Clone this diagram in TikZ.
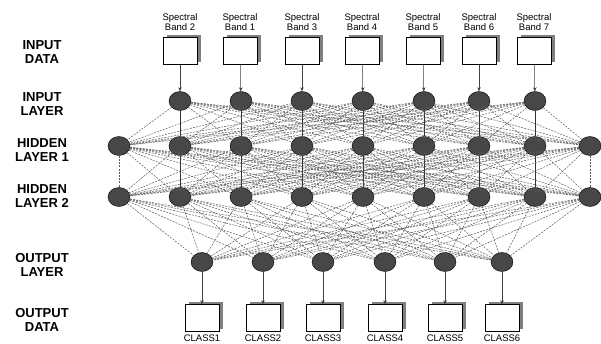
\documentclass[tikz,border=0pt]{standalone}
\usepackage{fontspec}
\setmainfont{Liberation Sans}
\usetikzlibrary{shapes.geometric,arrows.meta}
\begin{document}
\begin{tikzpicture}[x=1pt,y=-1pt,
  neuron/.style={ellipse,draw=black,fill=black!72,minimum width=22pt,minimum height=19pt,inner sep=0pt},
  databox/.style={draw=black,fill=white,minimum width=34pt,minimum height=27pt,inner sep=0pt},
  shadowbox/.style={fill=black!50,minimum width=34pt,minimum height=27pt,inner sep=0pt},
  layerlabel/.style={font=\bfseries\fontsize{13}{14.5}\selectfont,align=center},
  smalllabel/.style={font=\fontsize{9.5}{9.5}\selectfont,align=center},
  conn/.style={draw=black!65,line width=0.5pt,dash pattern=on 2pt off 1.2pt},
  vconn/.style={draw=black!80,line width=0.6pt},
  feed/.style={draw=black!75,line width=0.5pt,-{Stealth[length=4pt,width=3.5pt]}}
]
\useasboundingbox (0,0) rectangle (601,343);
% left labels
\node[layerlabel] (l1) at (42,52) {INPUT\\DATA};
\node[layerlabel] (l2) at (42,104) {INPUT\\LAYER};
\node[layerlabel] (l3) at (42,150) {HIDDEN\\LAYER 1};
\node[layerlabel] (l4) at (42,196) {HIDDEN\\LAYER 2};
\node[layerlabel] (l5) at (42,265) {OUTPUT\\LAYER};
\node[layerlabel] (l6) at (42,320) {OUTPUT\\DATA};
% input boxes
\foreach \x/\b [count=\i] in {180/2,240/1,302/3,362/4,423/5,479/6,534/7}{
  \node[shadowbox] (is\i) at (\x+4,48) {};
  \node[databox] (ib\i) at (\x,51) {};
  \node[smalllabel] (it\i) at (\x,22) {Spectral\\Band \b};
}
% input layer
\foreach \x [count=\i] in {180,241,302,363,424,479,535}{
  \node[neuron] (in\i) at (\x,101) {};
}
% hidden layers
\foreach \x [count=\i] in {119,180,241,302,363,424,479,535,590}{
  \node[neuron] (ha\i) at (\x,146) {};
  \node[neuron] (hb\i) at (\x,197) {};
}
% output layer
\foreach \x [count=\i] in {202,263,323,385,445,502}{
  \node[neuron] (on\i) at (\x,262) {};
  \node[shadowbox] (os\i) at (\x+4,315) {};
  \node[databox] (ob\i) at (\x,318) {};
  \node[smalllabel] (ot\i) at (\x,338) {CLASS\i};
}
% connections input -> hidden1
\foreach \i in {1,...,7}{
  \foreach \j in {1,...,9}{
    \pgfmathtruncatemacro{\k}{\i+1}
    \ifnum\j=\k\relax
      \draw[vconn] (in\i) -- (ha\j);
    \else
      \draw[conn] (in\i) -- (ha\j);
    \fi
  }
}
% hidden1 -> hidden2
\foreach \i in {1,...,9}{
  \foreach \j in {1,...,9}{
    \pgfmathtruncatemacro{\inner}{(\i>1)&&(\i<9)}
    \ifnum\i=\j\relax
      \ifnum\inner=1\relax
        \draw[vconn] (ha\i) -- (hb\j);
      \else
        \draw[conn] (ha\i) -- (hb\j);
      \fi
    \else
      \draw[conn] (ha\i) -- (hb\j);
    \fi
  }
}
% hidden2 -> output
\foreach \i in {1,...,9}{
  \foreach \j in {1,...,6}{
    \draw[conn] (hb\i) -- (on\j);
  }
}
% feed arrows
\foreach \i in {1,...,7}{ \draw[feed] (ib\i) -- (in\i); }
\foreach \i in {1,...,6}{ \draw[feed] (on\i) -- (ob\i); }
\end{tikzpicture}
\end{document}
